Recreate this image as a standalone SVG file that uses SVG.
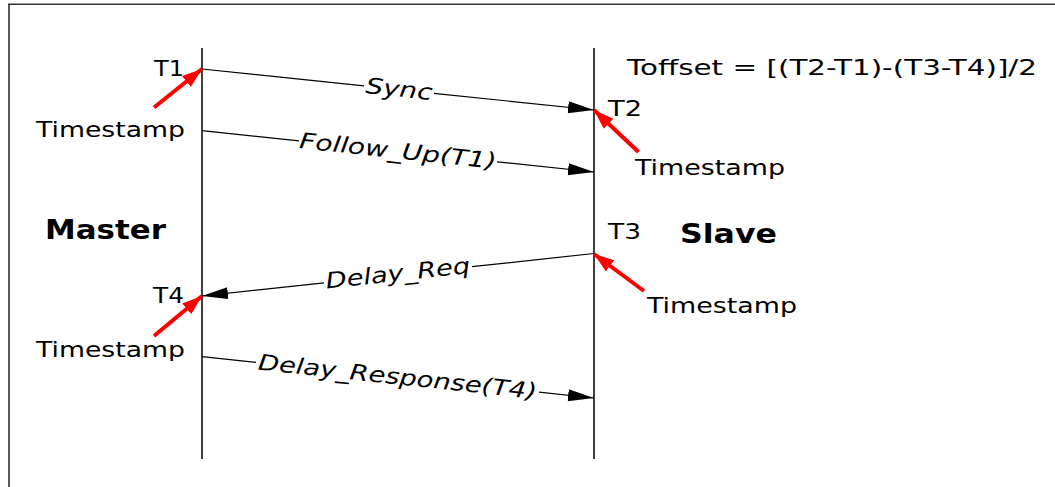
<svg xmlns="http://www.w3.org/2000/svg" width="1055" height="487" viewBox="0 0 1055 487">
<style>
.t{font-family:"DejaVu Sans","Liberation Sans",sans-serif;font-size:22px;fill:#000}
.b{font-weight:bold;font-size:26px}
.i{font-style:italic;text-anchor:middle}
.life{stroke:#000;stroke-width:1.5;fill:none}
.msg{stroke:#000;stroke-width:1.2;fill:none}
.ts{stroke:#f00;stroke-width:4;fill:none}
</style>
<defs>
<marker id="ah" markerUnits="userSpaceOnUse" markerWidth="27" markerHeight="13" refX="26" refY="6" orient="auto">
<path d="M0,0 L26,6 L0,12 z" fill="#000"/>
</marker>
<marker id="rh" markerUnits="userSpaceOnUse" markerWidth="21" markerHeight="15" refX="20" refY="7" orient="auto">
<path d="M0,0 L20,7 L0,14 z" fill="#f00"/>
</marker>
</defs>
<g id="frame">
<path d="M8,4.2 H1055 M9,4.2 V487" stroke="#333" stroke-width="1.6" fill="none"/>
</g>
<g id="master">
<line class="life" x1="202" y1="48" x2="202" y2="459"/>
<text class="t b" x="45" y="239" textLength="121" lengthAdjust="spacingAndGlyphs">Master</text>
</g>
<g id="slave">
<line class="life" x1="594" y1="48" x2="594" y2="459"/>
<text class="t b" x="680" y="243" textLength="97" lengthAdjust="spacingAndGlyphs">Slave</text>
</g>
<g id="formula">
<text class="t" x="627" y="75" textLength="410" lengthAdjust="spacingAndGlyphs">Toffset = [(T2-T1)-(T3-T4)]/2</text>
</g>
<g id="t1">
<text class="t" x="154" y="76" textLength="30" lengthAdjust="spacingAndGlyphs">T1</text>
<text class="t" x="36" y="137" textLength="149" lengthAdjust="spacingAndGlyphs">Timestamp</text>
<line class="ts" x1="154" y1="107.5" x2="202" y2="69" marker-end="url(#rh)"/>
</g>
<g id="t2">
<text class="t" x="608" y="116" textLength="34" lengthAdjust="spacingAndGlyphs">T2</text>
<text class="t" x="635" y="175" textLength="150" lengthAdjust="spacingAndGlyphs">Timestamp</text>
<line class="ts" x1="638.5" y1="152" x2="594" y2="110" marker-end="url(#rh)"/>
</g>
<g id="t3">
<text class="t" x="608" y="239" textLength="33" lengthAdjust="spacingAndGlyphs">T3</text>
<text class="t" x="647" y="313" textLength="150" lengthAdjust="spacingAndGlyphs">Timestamp</text>
<line class="ts" x1="644" y1="291" x2="594" y2="254" marker-end="url(#rh)"/>
</g>
<g id="t4">
<text class="t" x="153" y="303" textLength="31" lengthAdjust="spacingAndGlyphs">T4</text>
<text class="t" x="36" y="357" textLength="149" lengthAdjust="spacingAndGlyphs">Timestamp</text>
<line class="ts" x1="154" y1="336" x2="202" y2="296" marker-end="url(#rh)"/>
</g>
<g id="connectors">
<g id="sync">
<line class="msg" x1="202" y1="69" x2="364" y2="85.9"/>
<line class="msg" x1="434" y1="93.3" x2="594" y2="110" marker-end="url(#ah)"/>
<text class="t i" transform="translate(399,89.6) rotate(5.97)" y="7" textLength="67" lengthAdjust="spacingAndGlyphs">Sync</text>
</g>
<g id="followup">
<line class="msg" x1="202" y1="130.7" x2="299" y2="140.9"/>
<line class="msg" x1="497" y1="161.8" x2="594" y2="172" marker-end="url(#ah)"/>
<text class="t i" transform="translate(398,151.4) rotate(6.02)" y="7" textLength="198" lengthAdjust="spacingAndGlyphs">Follow_Up(T1)</text>
</g>
<g id="delayreq">
<line class="msg" x1="594" y1="253.5" x2="472" y2="266.7"/>
<line class="msg" x1="324" y1="282.8" x2="202" y2="296" marker-end="url(#ah)"/>
<text class="t i" transform="translate(398,274.75) rotate(-6.19)" y="6" textLength="145" lengthAdjust="spacingAndGlyphs">Delay_Req</text>
</g>
<g id="delayresp">
<line class="msg" x1="202" y1="356.7" x2="256" y2="362.4"/>
<line class="msg" x1="539" y1="392.2" x2="594" y2="398" marker-end="url(#ah)"/>
<text class="t i" transform="translate(397.5,377.3) rotate(6.02)" y="7" textLength="280" lengthAdjust="spacingAndGlyphs">Delay_Response(T4)</text>
</g>
</g>
</svg>
